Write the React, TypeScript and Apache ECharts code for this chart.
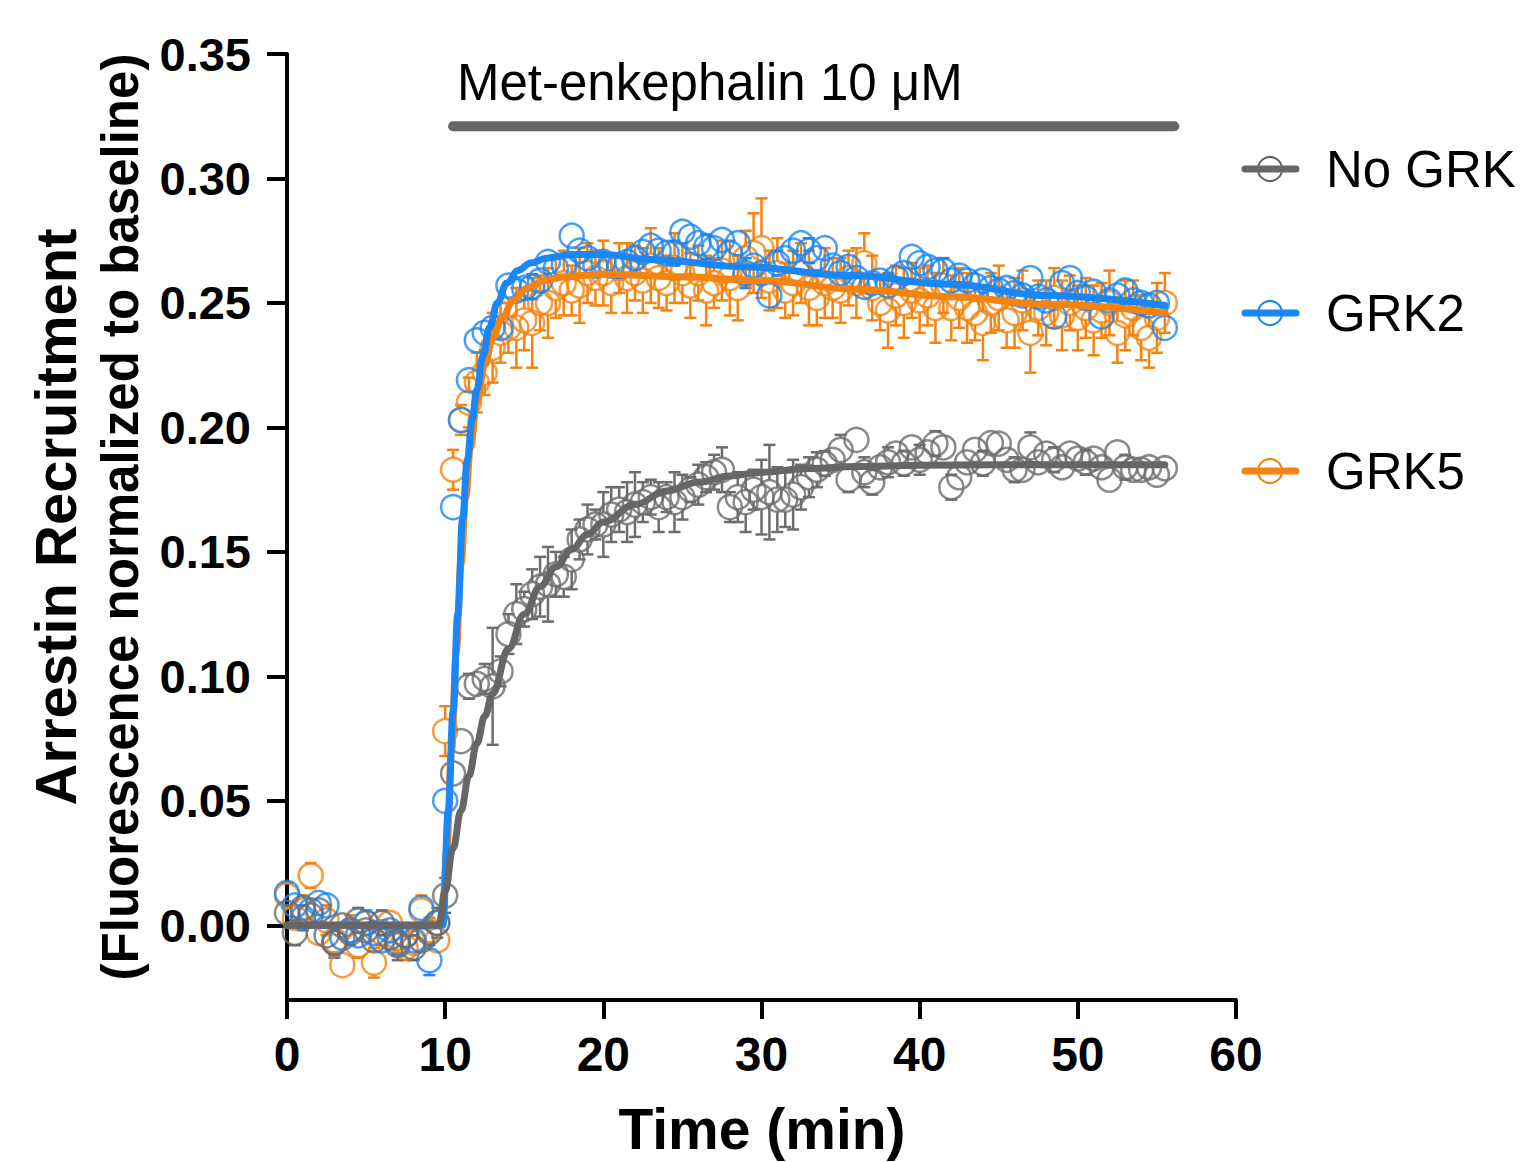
import React, { useEffect, useRef } from "react";
import * as echarts from "echarts";

// Sampling times (min)
const times = [
  0, 0.5, 1, 1.5, 2, 2.5, 3, 3.5, 4, 4.5, 5, 5.5, 6, 6.5, 7, 7.5, 8, 8.5, 9, 9.5,
  10, 10.5, 11, 11.5, 12, 12.5, 13, 13.5, 14, 14.5, 15, 15.5, 16, 16.5, 17, 17.5, 18, 18.5, 19, 19.5,
  20, 20.5, 21, 21.5, 22, 22.5, 23, 23.5, 24, 24.5, 25, 25.5, 26, 26.5, 27, 27.5, 28, 28.5, 29, 29.5,
  30, 30.5, 31, 31.5, 32, 32.5, 33, 33.5, 34, 34.5, 35, 35.5, 36, 36.5, 37, 37.5, 38, 38.5, 39, 39.5,
  40, 40.5, 41, 41.5, 42, 42.5, 43, 43.5, 44, 44.5, 45, 45.5, 46, 46.5, 47, 47.5, 48, 48.5, 49, 49.5,
  50, 50.5, 51, 51.5, 52, 52.5, 53, 53.5, 54, 54.5, 55, 55.5,
];

// No GRK (grey)
const noGrk = [
  0.005, -0.003, 0.007, 0.004, 0.006, -0.004, -0.007, 0.0, -0.003, 0.002, -0.002, -0.006, 0.001, -0.005, -0.008, -0.004, -0.009, -0.006, -0.003, 0.001,
  0.012, 0.061, 0.074, 0.096, 0.097, 0.099, 0.096, 0.102, 0.117, 0.125, 0.127, 0.133, 0.136, 0.137, 0.141, 0.14, 0.147, 0.155, 0.159, 0.161,
  0.161, 0.165, 0.167, 0.166,
  0.169, 0.17, 0.172, 0.168, 0.172, 0.17, 0.172, 0.175, 0.177, 0.18,
  0.182, 0.183, 0.168, 0.172, 0.17, 0.175, 0.172, 0.174, 0.171, 0.171,
  0.173, 0.176, 0.18, 0.183, 0.1855, 0.187, 0.191, 0.179, 0.195, 0.182,
  0.178, 0.184, 0.186, 0.1895, 0.1856, 0.192, 0.187, 0.19, 0.1935, 0.192,
  0.176, 0.18, 0.186, 0.191, 0.1856, 0.1937, 0.1935, 0.187, 0.183, 0.183,
  0.192, 0.186, 0.1895, 0.187, 0.184, 0.1895, 0.1875, 0.186, 0.1875, 0.184,
  0.179, 0.19, 0.184, 0.183, 0.183, 0.184, 0.181, 0.1836,
];
const noGrkErr = [
  0.004, 0.005, 0.003, 0.004, 0.003, 0.004, 0.006, 0.003, 0.004, 0.005, 0.003, 0.004, 0.005, 0.004, 0.006, 0.003, 0.005, 0.004, 0.003, 0.006,
  0.007, 0.004, 0.004, 0.005, 0.003, 0.006, 0.0235, 0.006, 0.008, 0.012, 0.007, 0.01, 0.012, 0.015, 0.009, 0.008, 0.012, 0.008, 0.01, 0.006,
  0.013, 0.011, 0.009, 0.012,
  0.013, 0.008, 0.007, 0.01, 0.006, 0.012, 0.009, 0.005, 0.008, 0.006,
  0.007, 0.009, 0.006, 0.01, 0.012, 0.008, 0.015, 0.019, 0.013, 0.011,
  0.014, 0.009, 0.008, 0.007, 0.005, 0.004, 0.006, 0.005, 0.004, 0.006,
  0.005, 0.004, 0.006, 0.003, 0.005, 0.004, 0.006, 0.004, 0.005, 0.003,
  0.005, 0.004, 0.003, 0.004, 0.005, 0.003, 0.004, 0.004, 0.005, 0.003,
  0.006, 0.004, 0.003, 0.005, 0.004, 0.003, 0.004, 0.005, 0.003, 0.004,
  0.003, 0.004, 0.005, 0.003, 0.004, 0.003, 0.004, 0.004,
];

// GRK2 (blue)
const grk2 = [
  0.013, 0.008, 0.003, 0.006, 0.009, 0.008, -0.007, -0.005, -0.002, -0.004, 0.001, -0.003, -0.006, -0.002, -0.007, -0.004, -0.006, 0.007, -0.014, 0.001,
  0.05, 0.168, 0.203, 0.219, 0.235,
  0.238, 0.24, 0.24, 0.257, 0.255, 0.256, 0.2565, 0.259, 0.2665, 0.264,
  0.265, 0.277, 0.271, 0.268, 0.265, 0.2665, 0.265, 0.265, 0.2665, 0.268,
  0.2705, 0.273, 0.271, 0.27, 0.27, 0.2786, 0.2766, 0.274, 0.2725, 0.272,
  0.2753, 0.27, 0.274, 0.262, 0.265, 0.262, 0.253, 0.266, 0.268, 0.271,
  0.274, 0.271, 0.268, 0.272, 0.265, 0.262, 0.2645, 0.26, 0.2565, 0.258,
  0.259, 0.257, 0.26, 0.262, 0.2685, 0.266, 0.2645, 0.263, 0.263, 0.259,
  0.261, 0.259, 0.257, 0.259, 0.256, 0.255, 0.256, 0.254, 0.253, 0.26,
  0.2525, 0.251, 0.2445, 0.258, 0.26, 0.254, 0.252, 0.2545, 0.2445, 0.251,
  0.253, 0.255, 0.251, 0.25, 0.249, 0.25, 0.24,
];
const grk2Err = [
  0.004, 0.003, 0.005, 0.004, 0.003, 0.004, 0.005, 0.003, 0.004, 0.003, 0.005, 0.004, 0.003, 0.004, 0.005, 0.004, 0.003, 0.004, 0.006, 0.003,
  0.004, 0.004, 0.003, 0.004, 0.004,
  0.004, 0.003, 0.004, 0.003, 0.004, 0.003, 0.005, 0.004, 0.003, 0.004,
  0.003, 0.004, 0.003, 0.004, 0.003, 0.004, 0.003, 0.005, 0.004, 0.003,
  0.004, 0.003, 0.004, 0.003, 0.005, 0.004, 0.003, 0.004, 0.005, 0.003,
  0.004, 0.003, 0.004, 0.006, 0.004, 0.003, 0.004, 0.005, 0.004, 0.003,
  0.004, 0.005, 0.003, 0.004, 0.003, 0.004, 0.003, 0.004, 0.003, 0.004,
  0.003, 0.004, 0.003, 0.004, 0.003, 0.004, 0.003, 0.004, 0.005, 0.003,
  0.004, 0.003, 0.004, 0.003, 0.004, 0.003, 0.004, 0.003, 0.004, 0.003,
  0.004, 0.003, 0.004, 0.003, 0.004, 0.003, 0.004, 0.003, 0.004, 0.003,
  0.004, 0.003, 0.004, 0.003, 0.004, 0.003, 0.004,
];

// GRK5 (orange)
const grk5 = [
  0.012, 0.003, 0.006, 0.02, -0.003, 0.002, -0.006, -0.016, -0.002, -0.008, 0.001, -0.015, -0.003, 0.001, -0.005, -0.009, -0.007, 0.006, -0.002, -0.006,
  0.078, 0.183, 0.203, 0.21, 0.218, 0.222, 0.232, 0.238, 0.24, 0.24,
  0.243, 0.242, 0.25, 0.25, 0.256, 0.258, 0.255, 0.257, 0.262, 0.26,
  0.262, 0.258, 0.264, 0.26, 0.262, 0.259, 0.265, 0.26, 0.258, 0.264,
  0.262,
  0.257, 0.262, 0.255, 0.258, 0.263, 0.26, 0.256, 0.268, 0.27, 0.272,
  0.259, 0.262, 0.255, 0.258, 0.262, 0.256, 0.252, 0.258, 0.256, 0.255,
  0.26, 0.258, 0.266, 0.256, 0.25, 0.247, 0.253, 0.25, 0.255, 0.251,
  0.253, 0.248, 0.257, 0.248, 0.252, 0.248, 0.246, 0.242, 0.25, 0.252,
  0.243, 0.246, 0.251, 0.238, 0.248, 0.246, 0.252, 0.245, 0.25, 0.244,
  0.248, 0.243, 0.247, 0.25, 0.238, 0.245, 0.248, 0.24, 0.236, 0.244,
  0.25,
];
const grk5Err = [
  0.005, 0.004, 0.006, 0.005, 0.004, 0.006, 0.005, 0.004, 0.006, 0.005, 0.004, 0.006, 0.005, 0.004, 0.006, 0.005, 0.004, 0.006, 0.005, 0.004,
  0.01, 0.008, 0.006, 0.01, 0.012, 0.009, 0.014, 0.012, 0.01, 0.016,
  0.012, 0.018, 0.011, 0.014, 0.012, 0.013, 0.01, 0.015, 0.012, 0.011,
  0.013, 0.012, 0.01, 0.014, 0.011, 0.013, 0.015, 0.012, 0.011, 0.014,
  0.012,
  0.013, 0.011, 0.014, 0.01, 0.012, 0.015, 0.013, 0.011, 0.016, 0.02,
  0.012, 0.014, 0.011, 0.013, 0.012, 0.015, 0.011, 0.014, 0.012, 0.013,
  0.011, 0.014, 0.012, 0.013, 0.011, 0.015, 0.012, 0.014, 0.011, 0.013,
  0.012, 0.014, 0.011, 0.013, 0.012, 0.014, 0.011, 0.015, 0.012, 0.013,
  0.011, 0.014, 0.012, 0.016, 0.011, 0.013, 0.012, 0.014, 0.011, 0.013,
  0.012, 0.014, 0.011, 0.013, 0.012, 0.014, 0.011, 0.013, 0.012, 0.014,
  0.012,
];

// Fitted curves
const noGrkFitT = [0, 9.6, 10.0, 10.5, 11.0, 11.5, 12.0, 12.5, 13.0, 14.0, 15.0, 16.0, 17.0, 18.0, 19.0, 20.0, 22.0, 24.0, 26.0, 28.0, 30.0, 33.0, 36.0, 40.0, 45.0, 50.0, 55.5];
const noGrkFitV = [0, 0, 0.014, 0.031, 0.046, 0.06, 0.073, 0.084, 0.093, 0.111, 0.125, 0.136, 0.144, 0.151, 0.157, 0.162, 0.169, 0.1745, 0.178, 0.1805, 0.182, 0.1835, 0.1843, 0.1848, 0.185, 0.185, 0.185];
const grk2FitT = [0, 9.85, 10.2, 10.5, 10.8, 11.1, 11.4, 11.7, 12.0, 12.4, 12.8, 13.3, 13.9, 14.6, 15.4, 16.4, 18.0, 20, 23, 29, 35.6, 42, 48, 55.5];
const grk2FitV = [0, 0, 0.046, 0.086, 0.125, 0.163, 0.187, 0.203, 0.215, 0.229, 0.24, 0.25, 0.258, 0.263, 0.266, 0.268, 0.2695, 0.2695, 0.2675, 0.2645, 0.261, 0.2575, 0.253, 0.249];
const grk5FitT = [0, 9.8, 10.1, 10.4, 10.7, 11.0, 11.3, 11.6, 12.0, 12.5, 13.0, 13.6, 14.3, 15.2, 16.3, 17.5, 20, 25, 30, 36, 42, 48, 55.5];
const grk5FitV = [0, 0, 0.03, 0.07, 0.11, 0.145, 0.172, 0.192, 0.21, 0.225, 0.236, 0.244, 0.251, 0.256, 0.259, 0.2605, 0.2615, 0.2605, 0.259, 0.2555, 0.2525, 0.2495, 0.246];

// Stimulus bar (min) and its level
const stimulusRange = [10.5, 56.1];
const stimulusLevel = 0.321;
const stimulusLabel = "Met-enkephalin 10 μM";

const yTicks = [0, 0.05, 0.1, 0.15, 0.2, 0.25, 0.3, 0.35];
const seriesNames = ["No GRK", "GRK2", "GRK5"];

const GREY = "#666666";
const GREY_PT = "#6d6d6d";
const BLUE = "#1A86F8";
const ORANGE = "#F5830F";
const FONT = "'Liberation Sans', Arial, Helvetica, sans-serif";

const R = 12;

function errRender(color: string) {
  return (params: any, api: any) => {
    const t = api.value(0);
    const v = api.value(1);
    const e = api.value(2);
    const c = api.coord([t, v]);
    const top = api.coord([t, v + e]);
    const bot = api.coord([t, v - e]);
    const cw = 6;
    const st = { stroke: color, lineWidth: 2.5 };
    const children: any[] = [];
    if (c[1] - top[1] > R) {
      children.push({ type: "line", shape: { x1: c[0], y1: c[1] - R, x2: c[0], y2: top[1] }, style: st });
      children.push({ type: "line", shape: { x1: c[0] - cw, y1: top[1], x2: c[0] + cw, y2: top[1] }, style: st });
    }
    if (bot[1] - c[1] > R) {
      children.push({ type: "line", shape: { x1: c[0], y1: c[1] + R, x2: c[0], y2: bot[1] }, style: st });
      children.push({ type: "line", shape: { x1: c[0] - cw, y1: bot[1], x2: c[0] + cw, y2: bot[1] }, style: st });
    }
    return { type: "group", children };
  };
}

function group(name: string, vals: number[], errs: number[], fitT: number[], fitV: number[], color: string, ptColor: string) {
  return [
    {
      type: "custom",
      name,
      renderItem: errRender(ptColor),
      data: times.map((t, i) => [t, vals[i], errs[i]]),
      encode: { x: 0, y: 1 },
      silent: true,
    },
    {
      type: "scatter",
      name,
      data: times.map((t, i) => [t, vals[i]]),
      symbol: "circle",
      symbolSize: R * 2,
      itemStyle: { color: "rgba(0,0,0,0)", borderColor: ptColor, borderWidth: 2.5 },
      silent: true,
    },
    {
      type: "line",
      name,
      data: fitT.map((t, i) => [t, fitV[i]]),
      showSymbol: false,
      smooth: 0.4,
      smoothMonotone: "x",
      lineStyle: { color, width: 7, cap: "round", join: "round" },
      silent: true,
    },
  ];
}

export default function App() {
  const ref = useRef<HTMLDivElement>(null);
  useEffect(() => {
    document.body.style.margin = "0";
    const chart = echarts.init(ref.current!, null, { renderer: "svg" });
    const legendY = [169, 313, 471];
    const legendColors = [GREY, BLUE, ORANGE];
    const legendGraphics: any[] = [];
    seriesNames.forEach((n, i) => {
      legendGraphics.push({
        type: "line",
        shape: { x1: 1245, y1: legendY[i], x2: 1296, y2: legendY[i] },
        style: { stroke: legendColors[i], lineWidth: 7, lineCap: "round" },
      });
      legendGraphics.push({
        type: "circle",
        shape: { cx: 1270, cy: legendY[i], r: 12 },
        style: { fill: "rgba(0,0,0,0)", stroke: legendColors[i], lineWidth: 2 },
      });
      legendGraphics.push({
        type: "text",
        x: 1326,
        y: legendY[i],
        style: { text: n, font: `51px ${FONT}`, fill: "#000", textVerticalAlign: "middle", textAlign: "left" },
      });
    });

    const option: any = {
      animation: false,
      backgroundColor: "#fff",
      grid: { left: 287, top: 54, width: 949, height: 946 },
      xAxis: {
        type: "value",
        min: 0,
        max: 60,
        interval: 10,
        axisLine: { onZero: false, lineStyle: { color: "#000", width: 4 } },
        axisTick: { length: 19, lineStyle: { color: "#000", width: 4 } },
        axisLabel: { color: "#000", fontFamily: FONT, fontWeight: "bold", fontSize: 48, margin: 30 },
        splitLine: { show: false },
      },
      yAxis: {
        type: "value",
        min: -0.03,
        max: 0.35,
        axisLine: { onZero: false, lineStyle: { color: "#000", width: 4 } },
        axisTick: { length: 20, lineStyle: { color: "#000", width: 4 }, customValues: yTicks },
        axisLabel: {
          color: "#000",
          fontFamily: FONT,
          fontWeight: "bold",
          fontSize: 47,
          margin: 36,
          customValues: yTicks,
          formatter: (v: number) => v.toFixed(2),
        },
        splitLine: { show: false },
      },
      graphic: [
        {
          type: "text",
          x: 55,
          y: 517,
          rotation: Math.PI / 2,
          style: { text: "Arrestin Recruitment", font: `bold 58px ${FONT}`, fill: "#000", textAlign: "center", textVerticalAlign: "middle" },
        },
        {
          type: "text",
          x: 120,
          y: 517,
          rotation: Math.PI / 2,
          style: { text: "(Fluorescence normalized to baseline)", font: `bold 51px ${FONT}`, fill: "#000", textAlign: "center", textVerticalAlign: "middle" },
        },
        {
          type: "text",
          x: 762,
          y: 1129,
          style: { text: "Time (min)", font: `bold 57px ${FONT}`, fill: "#000", textAlign: "center", textVerticalAlign: "middle" },
        },
        {
          type: "text",
          x: 457,
          y: 82,
          style: { text: stimulusLabel, font: `51px ${FONT}`, fill: "#000", textAlign: "left", textVerticalAlign: "middle" },
        },
        ...legendGraphics,
      ],
      series: [
        ...group(seriesNames[2], grk5, grk5Err, grk5FitT, grk5FitV, ORANGE, ORANGE),
        ...group(seriesNames[1], grk2, grk2Err, grk2FitT, grk2FitV, BLUE, BLUE),
        ...group(seriesNames[0], noGrk, noGrkErr, noGrkFitT, noGrkFitV, GREY, GREY_PT),
        {
          type: "line",
          name: "stimulus",
          data: stimulusRange.map((t) => [t, stimulusLevel]),
          showSymbol: false,
          lineStyle: { color: GREY, width: 10, cap: "round" },
          silent: true,
        },
      ],
    };
    chart.setOption(option);
    return () => chart.dispose();
  }, []);
  return <div ref={ref} style={{ width: 1522, height: 1162 }} />;
}
